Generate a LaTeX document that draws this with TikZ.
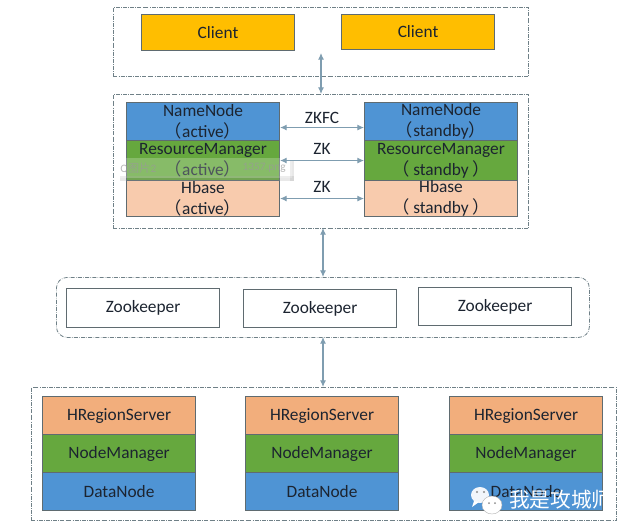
\documentclass[tikz,border=0pt]{standalone}
\usepackage{fontspec}
\setmainfont{Carlito}
\newfontfamily\cjkf{Noto Sans CJK SC}
\newcommand{\lbr}{{\cjkf （}}
\newcommand{\rbr}{{\cjkf ）}}
\usetikzlibrary{arrows.meta,calc}
\definecolor{cblue}{HTML}{4F94D4}
\definecolor{cgreen}{HTML}{66A83E}
\definecolor{cpeach}{HTML}{F8CBAD}
\definecolor{corange}{HTML}{F2AE7C}
\definecolor{cgold}{HTML}{FFBE00}
\definecolor{cedge}{HTML}{5F6B70}
\definecolor{cdash}{HTML}{6F8087}
\definecolor{carrow}{HTML}{7F9DB0}
\definecolor{ctext}{HTML}{1C2430}
\tikzset{
  x=0.75pt,y=-0.75pt,
  every node/.style={font=\fontsize{13pt}{14pt}\selectfont,text=ctext,inner sep=0pt,align=center},
  group/.style={draw=cdash,densely dashdotted,line width=0.6pt},
  cell/.style={draw=cedge,line width=0.8pt,minimum width=114.75pt,anchor=north west},
  twoline/.style={font=\fontsize{13pt}{15.5pt}\selectfont},
  link/.style={draw=carrow,line width=0.8pt,{Latex[length=5pt,width=4.5pt]}-{Latex[length=5pt,width=4.5pt]}},
  lbl/.style={font=\fontsize{13pt}{14pt}\selectfont}
}
\begin{document}
\begin{tikzpicture}
\useasboundingbox (0,0) rectangle (617,522);
\fill[white] (0,0) rectangle (617,522);
% groups
\node[group,minimum width=311.25pt,minimum height=51.75pt,anchor=north west] (g1) at (113,7) {};
\node[group,minimum width=311.25pt,minimum height=100.5pt,anchor=north west] (g2) at (113,94) {};
\node[group,rounded corners=8pt,minimum width=399.75pt,minimum height=45pt,anchor=north west] (g3) at (56,277) {};
\node[group,minimum width=438.75pt,minimum height=99.75pt,anchor=north west] (g4) at (31,387) {};
% clients
\node[cell,fill=cgold,minimum height=27pt] (c1) at (141,14) {Client};
\node[cell,fill=cgold,minimum height=26.25pt] (c2) at (341,14) {Client};
% masters
\node[cell,fill=cblue,minimum height=28.5pt,twoline] (nn1) at (126,102) {NameNode\\\lbr active\rbr};
\node[cell,fill=cgreen,minimum height=30pt,twoline] (rm1) at (126,140) {ResourceManager\\\lbr active\rbr};
\node[cell,fill=cpeach,minimum height=27pt,twoline] (hb1) at (126,180) {Hbase\\\lbr active\rbr};
\node[cell,fill=cblue,minimum height=28.5pt,twoline] (nn2) at (364,102) {NameNode\\\lbr standby\rbr};
\node[cell,fill=cgreen,minimum height=30pt,twoline] (rm2) at (364,140) {ResourceManager\\\lbr\ standby \rbr};
\node[cell,fill=cpeach,minimum height=27pt,twoline] (hb2) at (364,180) {Hbase\\\lbr\ standby \rbr};
% translucent tooltip over the active stack
\fill[black!40,opacity=0.22] (120,176) rectangle (294,181);
\fill[black!40,opacity=0.22] (290,160) rectangle (294,181);
\fill[white,opacity=0.22] (118,158) rectangle (292,178);
\node[anchor=west,font=\fontsize{8.5pt}{9pt}\selectfont,text=black!40,opacity=0.7] (tipa) at (120,168) {Q{\cjkf 图片}2};
\node[anchor=east,font=\fontsize{8.5pt}{9pt}\selectfont,text=black!40,opacity=0.7] (tipb) at (286,168) {1357.png};
% arrows between masters
\draw[link] ([yshift=-4.5pt]nn1.east) -- node[lbl,above=2.5pt]{ZKFC} ([yshift=-4.5pt]nn1.east -| nn2.west);
\draw[link] (rm1.east) -- node[lbl,above=4pt]{ZK} (rm1.east -| rm2.west);
\draw[link] (hb1.east) -- node[lbl,above=4pt]{ZK} (hb1.east -| hb2.west);
% zookeepers
\node[cell,minimum height=29.25pt,fill=white] (z1) at (66,288) {Zookeeper};
\node[cell,minimum height=28.5pt,fill=white] (z2) at (243,289) {Zookeeper};
\node[cell,minimum height=28.5pt,fill=white] (z3) at (418,287) {Zookeeper};
% workers
\foreach \n/\x in {a/42,b/245,c/449}{
  \node[cell,fill=corange,minimum height=28.5pt] (hr\n) at (\x,396) {HRegionServer};
  \node[cell,fill=cgreen,minimum height=28.5pt] (nm\n) at (\x,434) {NodeManager};
  \node[cell,fill=cblue,minimum height=28.5pt] (dn\n) at (\x,472) {DataNode};
}
% vertical links
\coordinate (t1) at (321,53);
\draw[link] (t1) -- (t1 |- g2.north);
\coordinate (t2) at (323,228);
\draw[link] (t2) -- (t2 |- g3.north);
\coordinate (t3) at (323,337);
\draw[link] (t3) -- (t3 |- g4.north);
% watermark
\fill[white,opacity=0.92] (480,495) ellipse (9 and 8);
\fill[white] (474,501) -- (472,507) -- (479,502) -- cycle;
\fill[black!45] (477,492) circle (1.2) (484,492) circle (1.2);
\fill[white,draw=black!30,line width=0.3pt] (492,505) ellipse (10 and 9);
\fill[black!45] (489,503) circle (1) (495,503) circle (1);
\node[anchor=west,text=white,font=\cjkf\fontsize{15.5pt}{17pt}\selectfont] (wm) at (509,500) {我是攻城师};
\end{tikzpicture}
\end{document}
